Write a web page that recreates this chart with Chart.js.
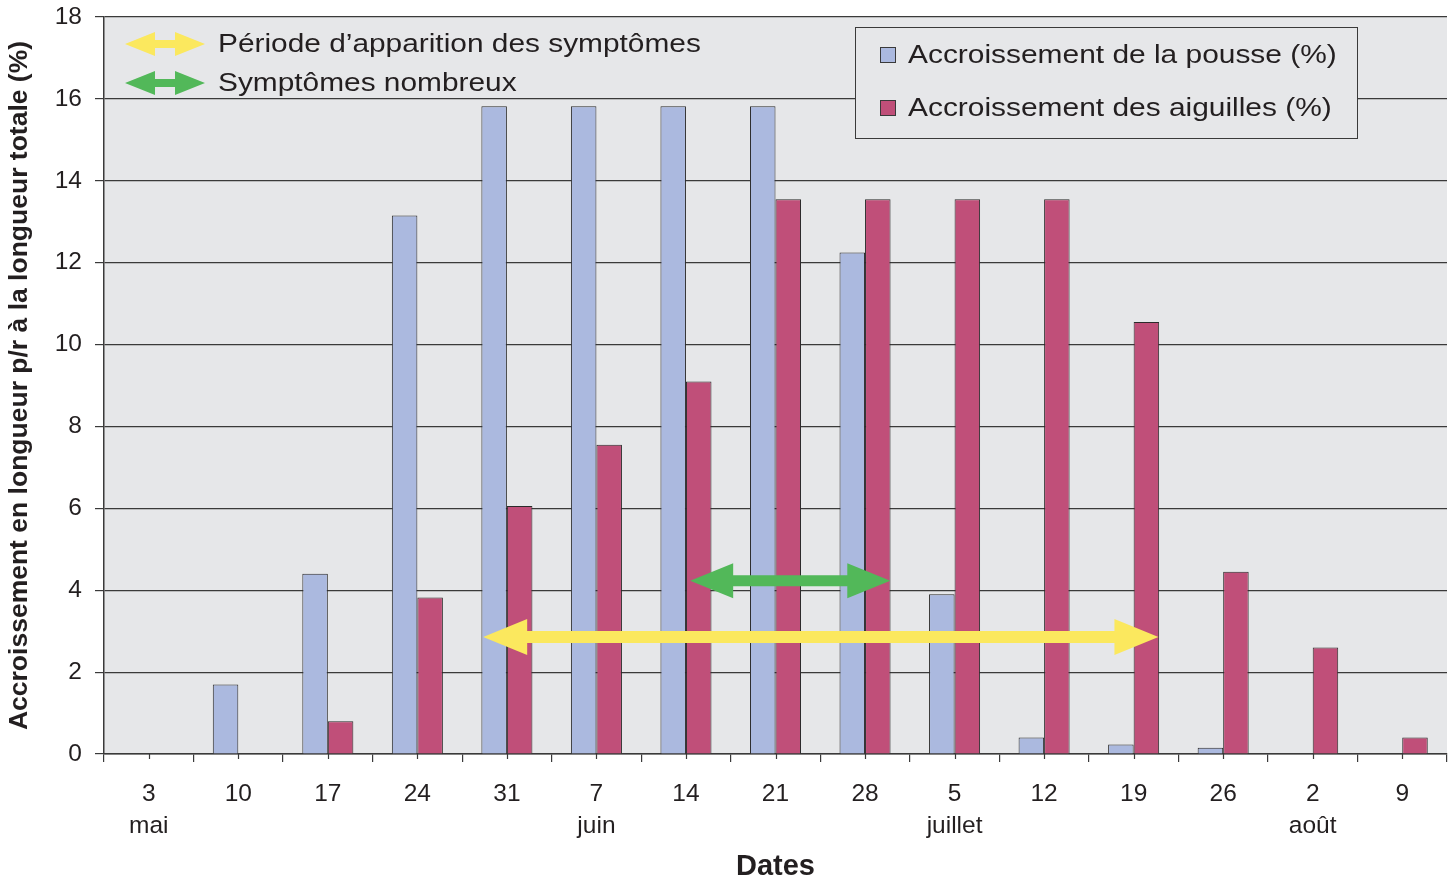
<!DOCTYPE html>
<html>
<head>
<meta charset="utf-8">
<script src="https://cdn.jsdelivr.net/npm/chart.js@4/dist/chart.umd.min.js"></script>
<style>
  html, body { margin: 0; padding: 0; background: #ffffff; }
</style>
</head>
<body>
<canvas id="grafico" width="1454" height="884"></canvas>
<script>
// Dates (jour + mois) sur l'axe X
const dates = [['3', 'mai'], ['10'], ['17'], ['24'], ['31'], ['7', 'juin'], ['14'], ['21'], ['28'],
               ['5', 'juillet'], ['12'], ['19'], ['26'], ['2', 'août'], ['9']];

// Accroissement (%)
const pousse    = [null, 1.7, 4.4, 13.15, 15.82, 15.82, 15.82, 15.82, 12.25, 3.9, 0.4, 0.23, 0.15, null, null];
const aiguilles = [null, null, 0.8, 3.82, 6.06, 7.55, 9.1, 13.55, 13.55, 13.55, 13.55, 10.55, 4.45, 2.6, 0.4];

const nomsSeries = ['Accroissement de la pousse (%)', 'Accroissement des aiguilles (%)'];
const couleurs = ['#abb9df', '#c04f79'];

const yTicks = [0, 2, 4, 6, 8, 10, 12, 14, 16, 18];

// Flèches : [début, fin] en position de catégorie, hauteur en %
const flechePeriode  = [3.735, 11.277, 2.86];
const flecheNombreux = [6.047, 8.282, 4.23];
const textesFleches = ["Période d’apparition des symptômes", 'Symptômes nombreux'];

const FONT = '"Liberation Sans", Arial, sans-serif';
const INK = '#231f20';

// dessine une flèche double
function flecheDouble(ctx, x1, x2, y, epais, longTete, hautTete, couleur) {
  ctx.save();
  ctx.fillStyle = couleur;
  ctx.beginPath();
  ctx.moveTo(x1, y);
  ctx.lineTo(x1 + longTete, y - hautTete / 2);
  ctx.lineTo(x1 + longTete, y - epais / 2);
  ctx.lineTo(x2 - longTete, y - epais / 2);
  ctx.lineTo(x2 - longTete, y - hautTete / 2);
  ctx.lineTo(x2, y);
  ctx.lineTo(x2 - longTete, y + hautTete / 2);
  ctx.lineTo(x2 - longTete, y + epais / 2);
  ctx.lineTo(x1 + longTete, y + epais / 2);
  ctx.lineTo(x1 + longTete, y + hautTete / 2);
  ctx.closePath();
  ctx.fill();
  ctx.restore();
}

// texte un peu élargi (comme dans l'original)
function texteLarge(ctx, txt, x, y, etirement) {
  ctx.save();
  ctx.translate(x, y);
  ctx.scale(etirement, 1);
  ctx.fillStyle = INK;
  ctx.font = '26px ' + FONT;
  ctx.textBaseline = 'middle';
  ctx.fillText(txt, 0, 0);
  ctx.restore();
}

const fondPlugin = {
  id: 'fond',
  beforeDraw(chart) {
    const {ctx, chartArea: a} = chart;
    ctx.save();
    ctx.fillStyle = '#e6e7e9';
    ctx.fillRect(a.left, a.top, a.right - a.left, a.bottom - a.top);
    ctx.restore();
  }
};

const decorPlugin = {
  id: 'decor',
  afterDraw(chart) {
    const {ctx, chartArea: a, scales} = chart;
    const x = scales.x, y = scales.y;

    // petits traits au centre de chaque catégorie
    ctx.save();
    ctx.strokeStyle = '#3a3a3a';
    ctx.lineWidth = 1.2;
    for (let i = 0; i < dates.length; i++) {
      const px = Math.round(x.getPixelForTick(i)) + 0.5;
      ctx.beginPath();
      ctx.moveTo(px, a.bottom);
      ctx.lineTo(px, a.bottom + 5);
      ctx.stroke();
    }
    ctx.restore();

    // flèches sur le graphique
    flecheDouble(ctx, x.getPixelForValue(flechePeriode[0]), x.getPixelForValue(flechePeriode[1]),
      y.getPixelForValue(flechePeriode[2]), 12, 44, 36, '#fbe85e');
    flecheDouble(ctx, x.getPixelForValue(flecheNombreux[0]), x.getPixelForValue(flecheNombreux[1]),
      y.getPixelForValue(flecheNombreux[2]), 11, 43, 35, '#52b859');

    // légende des flèches (haut gauche)
    flecheDouble(ctx, 125, 205, 44, 8, 30, 24, '#fbe85e');
    flecheDouble(ctx, 125, 205, 83, 8, 30, 24, '#52b859');
    texteLarge(ctx, textesFleches[0], 218, 45, 1.148);
    texteLarge(ctx, textesFleches[1], 218, 84, 1.148);

    // légende des séries (boîte à droite)
    ctx.save();
    ctx.fillStyle = '#e6e7e9';
    ctx.fillRect(855, 27, 502, 111);
    ctx.strokeStyle = '#3a3a3a';
    ctx.lineWidth = 1;
    ctx.strokeRect(855.5, 27.5, 502, 111);
    const lignes = [55, 108];
    for (let i = 0; i < 2; i++) {
      ctx.fillStyle = couleurs[i];
      ctx.fillRect(880, lignes[i] - 8, 16, 16);
      ctx.strokeStyle = '#3a3a3a';
      ctx.strokeRect(880.5, lignes[i] - 7.5, 15, 15);
      texteLarge(ctx, nomsSeries[i], 908, lignes[i] + 1, 1.15);
    }
    ctx.restore();
  }
};

new Chart(document.getElementById('grafico'), {
  type: 'bar',
  data: {
    labels: dates,
    datasets: [
      {
        label: nomsSeries[0],
        data: pousse,
        backgroundColor: couleurs[0],
        borderColor: '#2b2b2b',
        borderWidth: 1,
        barPercentage: 1,
        categoryPercentage: 0.57
      },
      {
        label: nomsSeries[1],
        data: aiguilles,
        backgroundColor: couleurs[1],
        borderColor: '#2b2b2b',
        borderWidth: 1,
        barPercentage: 1,
        categoryPercentage: 0.57
      }
    ]
  },
  options: {
    responsive: false,
    animation: false,
    devicePixelRatio: 1,
    layout: { padding: { top: 17, right: 7, bottom: 0, left: 0 } },
    plugins: {
      legend: { display: false },
      tooltip: { enabled: false }
    },
    scales: {
      x: {
        afterFit(scale) { scale.height = 130; },
        grid: {
          offset: true,
          drawOnChartArea: false,
          drawTicks: true,
          tickLength: 8,
          color: '#3a3a3a',
          lineWidth: 1.2
        },
        border: { display: true, color: '#3a3a3a', width: 1.5 },
        ticks: {
          color: INK,
          font: { family: FONT, size: 24.5, lineHeight: 1.306 },
          padding: 16,
          maxRotation: 0,
          autoSkip: false
        },
        title: {
          display: true,
          text: 'Dates',
          color: INK,
          font: { family: FONT, size: 29, weight: 'bold' },
          padding: { top: 0, bottom: 0 }
        }
      },
      y: {
        min: 0,
        max: 18,
        afterFit(scale) {
          scale.width = 104;
          scale.paddingTop = 0;
          scale.paddingBottom = 0;
        },
        afterBuildTicks(scale) { scale.ticks = yTicks.map(v => ({value: v})); },
        grid: {
          color: '#3a3a3a',
          lineWidth: 1.2,
          tickLength: 9
        },
        border: { display: true, color: '#3a3a3a', width: 1.5 },
        ticks: {
          color: INK,
          font: { family: FONT, size: 24.5 },
          padding: 13
        },
        title: {
          display: true,
          text: 'Accroissement en longueur p/r à la longueur totale (%)',
          color: INK,
          font: { family: FONT, size: 26.5, weight: 'bold' },
          padding: { top: 4, bottom: 0 }
        }
      }
    }
  },
  plugins: [fondPlugin, decorPlugin]
});
</script>
</body>
</html>
